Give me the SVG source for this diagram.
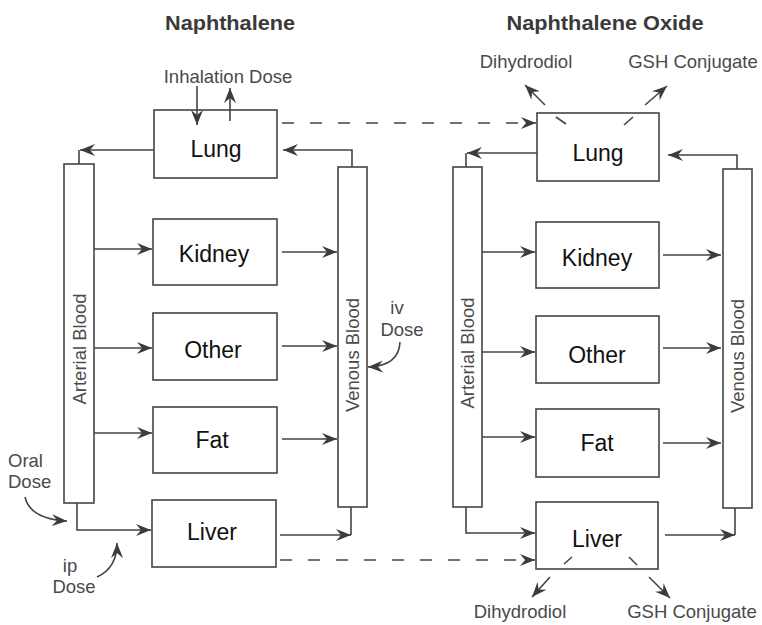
<svg xmlns="http://www.w3.org/2000/svg" width="762" height="625" viewBox="0 0 762 625">
<defs>
<marker id="ah" markerUnits="userSpaceOnUse" markerWidth="16" markerHeight="13" refX="15" refY="6.5" orient="auto">
<path d="M0,0.5 L15,6.5 L0,12.5 L5,6.5 z" fill="#3c3c3c"/>
</marker>
<style>
.box{fill:#fff;stroke:#444;stroke-width:1.6}
.bar{fill:#fff;stroke:#444;stroke-width:1.6}
.ln{fill:none;stroke:#444;stroke-width:1.6}
.arr{fill:none;stroke:#444;stroke-width:1.6;marker-end:url(#ah)}
.dash{fill:none;stroke:#444;stroke-width:1.6;stroke-dasharray:12 16;marker-end:url(#ah)}
.node{font-family:"Liberation Sans",Arial,sans-serif;font-size:23px;fill:#111;text-anchor:middle}
.lab{font-family:"Liberation Sans",Arial,sans-serif;font-size:18.5px;fill:#4a4a4a}
.title{font-family:"Liberation Sans",Arial,sans-serif;font-size:20px;font-weight:bold;fill:#3a3a3a;text-anchor:middle}
.vt{font-family:"Liberation Sans",Arial,sans-serif;font-size:18.5px;fill:#4a4a4a;text-anchor:middle}
</style>
</defs>
<rect width="762" height="625" fill="#fff"/>

<text class="title" x="230" y="30" textLength="130" lengthAdjust="spacingAndGlyphs">Naphthalene</text>
<text class="title" x="605" y="30" textLength="197" lengthAdjust="spacingAndGlyphs">Naphthalene Oxide</text>

<!-- Left model -->
<g id="L_arterial"><rect class="bar" x="64" y="164" width="30" height="339"/><text class="vt" transform="translate(86,349) rotate(-90)">Arterial Blood</text></g>
<g id="L_venous"><rect class="bar" x="338" y="167" width="29" height="340"/><text class="vt" transform="translate(359,355) rotate(-90)">Venous Blood</text></g>
<g id="L_lung"><rect class="box" x="154" y="110" width="123" height="68"/><text class="node" x="216" y="157">Lung</text></g>
<g id="L_kidney"><rect class="box" x="153" y="219" width="124" height="66"/><text class="node" x="214" y="262">Kidney</text></g>
<g id="L_other"><rect class="box" x="153" y="313" width="124" height="67"/><text class="node" x="213" y="358">Other</text></g>
<g id="L_fat"><rect class="box" x="153" y="407" width="124" height="66"/><text class="node" x="212" y="448">Fat</text></g>
<g id="L_liver"><rect class="box" x="152" y="500" width="124" height="67"/><text class="node" x="212" y="540">Liver</text></g>

<!-- Right model -->
<g id="R_arterial"><rect class="bar" x="453" y="167" width="29" height="340"/><text class="vt" transform="translate(474,353) rotate(-90)">Arterial Blood</text></g>
<g id="R_venous"><rect class="bar" x="723" y="169" width="29" height="339"/><text class="vt" transform="translate(744,356) rotate(-90)">Venous Blood</text></g>
<g id="R_lung"><rect class="box" x="537" y="113" width="122" height="68"/><text class="node" x="598" y="161">Lung</text></g>
<g id="R_kidney"><rect class="box" x="536" y="222" width="123" height="66"/><text class="node" x="597" y="266">Kidney</text></g>
<g id="R_other"><rect class="box" x="536" y="316" width="123" height="67"/><text class="node" x="597" y="363">Other</text></g>
<g id="R_fat"><rect class="box" x="536" y="409" width="123" height="68"/><text class="node" x="597" y="451">Fat</text></g>
<g id="R_liver"><rect class="box" x="536" y="502" width="122" height="67"/><text class="node" x="597" y="547">Liver</text></g>

<g id="labels">
<text class="lab" x="228" y="83" text-anchor="middle">Inhalation Dose</text>
<text class="lab" x="8" y="467">Oral</text>
<text class="lab" x="8" y="488">Dose</text>
<text class="lab" x="70" y="572" text-anchor="middle">ip</text>
<text class="lab" x="74" y="593" text-anchor="middle">Dose</text>
<text class="lab" x="397" y="314" text-anchor="middle">iv</text>
<text class="lab" x="402" y="336" text-anchor="middle">Dose</text>
<text class="lab" x="526" y="68" text-anchor="middle">Dihydrodiol</text>
<text class="lab" x="693" y="68" text-anchor="middle">GSH Conjugate</text>
<text class="lab" x="520" y="618" text-anchor="middle">Dihydrodiol</text>
<text class="lab" x="692" y="618" text-anchor="middle">GSH Conjugate</text>
</g>

<g id="connectors">
<!-- left -->
<path class="arr" d="M197,86 V125"/>
<path class="arr" d="M230,121 V88"/>
<path class="ln" d="M79,164 V150"/>
<path class="arr" d="M154,150 H80"/>
<path class="arr" d="M352,167 V150 H283"/>
<path class="arr" d="M94,249 H152"/>
<path class="arr" d="M282,252 H337"/>
<path class="arr" d="M94,348 H152"/>
<path class="arr" d="M282,346 H337"/>
<path class="arr" d="M94,433 H152"/>
<path class="arr" d="M282,439 H337"/>
<path class="arr" d="M77,503 V530 H151"/>
<path class="ln" d="M351,507 V535"/>
<path class="arr" d="M280,535 H351"/>
<path class="dash" d="M282,123 H536"/>
<path class="dash" d="M280,560 H535"/>
<path class="arr" d="M25,497 Q30,519 67,521"/>
<path class="arr" d="M97,577 Q117,568 117,543"/>
<path class="arr" d="M400,342 Q399,366 368,367"/>
<!-- right -->
<path class="ln" d="M466,167 V153"/>
<path class="arr" d="M537,153 H467"/>
<path class="arr" d="M737,169 V155 H668"/>
<path class="arr" d="M482,252 H535"/>
<path class="arr" d="M663,255 H721"/>
<path class="arr" d="M482,352 H535"/>
<path class="arr" d="M663,348 H721"/>
<path class="arr" d="M482,437 H535"/>
<path class="arr" d="M663,443 H721"/>
<path class="arr" d="M466,507 V533 H535"/>
<path class="ln" d="M735,508 V535"/>
<path class="arr" d="M665,535 H735"/>
<path class="ln" d="M556,117 L566,124 M633,117 L624,125 M564,564 L572,557 M629,557 L637,565"/>
<path class="arr" d="M545,105 L525,85"/>
<path class="arr" d="M645,105 L667,86"/>
<path class="arr" d="M550,577 L532,597"/>
<path class="arr" d="M649,577 L670,598"/>
</g>
</svg>
